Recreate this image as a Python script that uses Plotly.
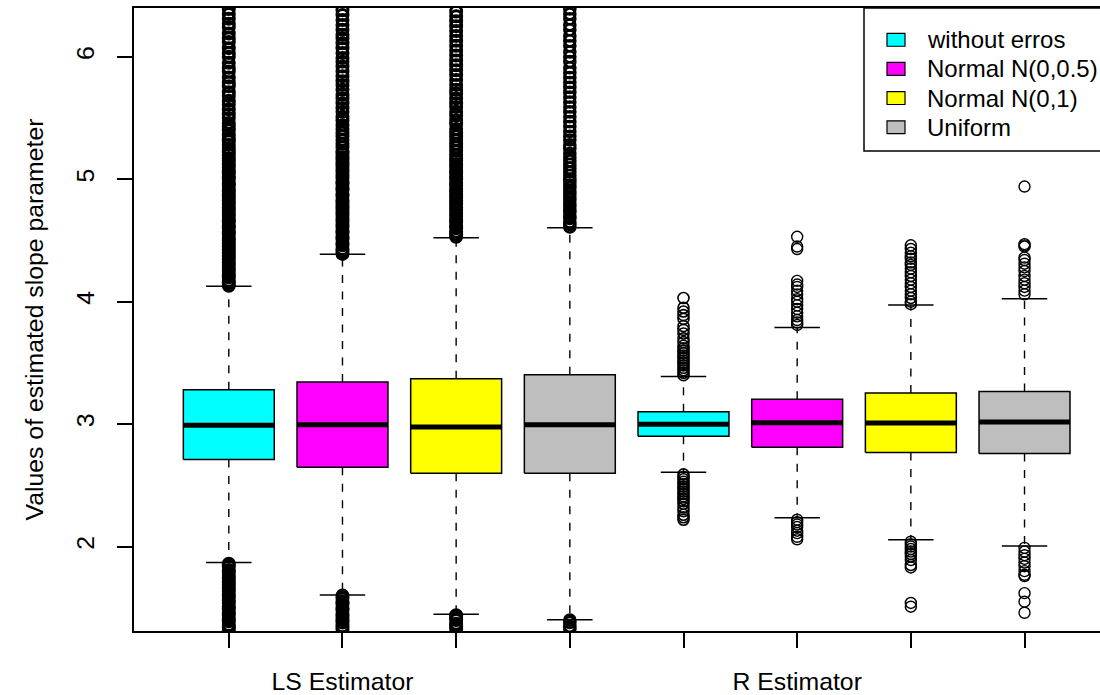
import plotly.graph_objects as go

# ---------------- data ----------------
estimators = ["LS Estimator", "R Estimator"]
error_types = ["without erros", "Normal N(0,0.5)", "Normal N(0,1)", "Uniform"]
box_colors = ["#00FFFF", "#FF00FF", "#FFFF00", "#BEBEBE"]

# eight boxes: LS x 4 error types, then R x 4 error types
q1 = [2.712, 2.649, 2.600, 2.600, 2.901, 2.811, 2.768, 2.760]
median = [2.992, 2.995, 2.976, 2.995, 3.000, 3.012, 3.009, 3.017]
q3 = [3.280, 3.344, 3.371, 3.404, 3.101, 3.203, 3.255, 3.266]
lower_whisker = [1.870, 1.605, 1.448, 1.402, 2.608, 2.235, 2.057, 2.006]
upper_whisker = [4.126, 4.388, 4.521, 4.604, 3.390, 3.790, 3.972, 4.023]

outliers_ls_none = [
    4.13, 4.15, 4.17, 4.20, 4.22, 4.25, 4.27, 4.30, 4.32, 4.35, 4.37, 4.40, 4.42,
    4.45, 4.47, 4.50, 4.52, 4.55, 4.57, 4.60, 4.62, 4.65, 4.67, 4.70, 4.72, 4.75,
    4.77, 4.80, 4.82, 4.85, 4.87, 4.90, 4.92, 4.95, 4.97, 5.00, 5.02, 5.05, 5.07,
    5.10, 5.12, 5.15, 5.17, 5.20, 5.22, 5.25, 5.28, 5.31, 5.33, 5.36, 5.40, 5.43,
    5.46, 5.50, 5.53, 5.57, 5.61, 5.64, 5.68, 5.71, 5.76, 5.79, 5.83, 5.88, 5.91,
    5.95, 6.00, 6.03, 6.07, 6.12, 6.15, 6.19, 6.24, 6.27, 6.31, 6.35, 6.39,
    1.86, 1.84, 1.81, 1.79, 1.76, 1.74, 1.71, 1.69, 1.66, 1.64, 1.61, 1.59, 1.56,
    1.54, 1.51, 1.49, 1.46, 1.44, 1.41, 1.39, 1.36, 1.34, 1.32,
]
outliers_ls_n05 = [
    4.39, 4.41, 4.43, 4.46, 4.48, 4.51, 4.53, 4.56, 4.58, 4.61, 4.63, 4.66, 4.68,
    4.71, 4.73, 4.76, 4.78, 4.81, 4.83, 4.86, 4.88, 4.91, 4.93, 4.96, 4.98, 5.01,
    5.03, 5.06, 5.08, 5.11, 5.13, 5.16, 5.18, 5.21, 5.23, 5.26, 5.29, 5.32, 5.35,
    5.38, 5.41, 5.44, 5.48, 5.51, 5.55, 5.58, 5.62, 5.66, 5.69, 5.73, 5.77, 5.80,
    5.84, 5.88, 5.92, 5.96, 5.99, 6.03, 6.07, 6.11, 6.15, 6.18, 6.22, 6.26, 6.30,
    6.34, 6.38,
    1.60, 1.58, 1.55, 1.53, 1.50, 1.48, 1.45, 1.43, 1.40, 1.38, 1.35, 1.33,
]
outliers_ls_n1 = [
    4.53, 4.55, 4.57, 4.60, 4.62, 4.65, 4.67, 4.70, 4.72, 4.75, 4.77, 4.80, 4.82,
    4.85, 4.87, 4.90, 4.92, 4.95, 4.97, 5.00, 5.02, 5.05, 5.07, 5.10, 5.12, 5.15,
    5.17, 5.20, 5.23, 5.26, 5.29, 5.32, 5.35, 5.38, 5.41, 5.45, 5.48, 5.52, 5.55,
    5.59, 5.62, 5.66, 5.70, 5.73, 5.77, 5.81, 5.85, 5.89, 5.93, 5.97, 6.01, 6.05,
    6.09, 6.13, 6.17, 6.21, 6.25, 6.29, 6.33, 6.37,
    1.44, 1.42, 1.40, 1.37, 1.35, 1.33,
]
outliers_ls_unif = [
    4.61, 4.63, 4.65, 4.68, 4.70, 4.73, 4.75, 4.78, 4.80, 4.83, 4.85, 4.88, 4.90,
    4.93, 4.95, 4.98, 5.00, 5.03, 5.06, 5.09, 5.12, 5.15, 5.18, 5.21, 5.25, 5.28,
    5.32, 5.35, 5.39, 5.43, 5.47, 5.51, 5.55, 5.59, 5.63, 5.67, 5.71, 5.75, 5.79,
    5.83, 5.87, 5.91, 5.96, 6.00, 6.04, 6.09, 6.13, 6.17, 6.22, 6.26, 6.31, 6.35,
    6.39,
    1.40, 1.38, 1.35, 1.33,
]
outliers_r_none = [
    3.40, 3.42, 3.44, 3.46, 3.48, 3.50, 3.52, 3.54, 3.56, 3.58, 3.60, 3.62, 3.64,
    3.67, 3.70, 3.74, 3.77, 3.80, 3.86, 3.89, 3.92, 3.95, 4.03,
    2.59, 2.57, 2.55, 2.53, 2.51, 2.49, 2.47, 2.45, 2.43, 2.41, 2.39, 2.37, 2.35,
    2.32, 2.29, 2.26, 2.24, 2.22,
]
outliers_r_n05 = [
    4.53, 4.45, 4.43, 4.17, 4.14, 4.12, 4.09, 4.06, 4.02, 4.00, 3.97, 3.94, 3.91,
    3.88, 3.85, 3.83, 3.81,
    2.22, 2.20, 2.18, 2.16, 2.13, 2.11, 2.08, 2.06,
]
outliers_r_n1 = [
    4.46, 4.43, 4.40, 4.37, 4.35, 4.32, 4.30, 4.27, 4.24, 4.21, 4.18, 4.15, 4.12,
    4.09, 4.06, 4.03, 4.00, 3.98,
    2.04, 2.02, 2.00, 1.98, 1.96, 1.94, 1.92, 1.89, 1.85, 1.83, 1.54, 1.51,
]
outliers_r_unif = [
    4.94, 4.47, 4.46, 4.45, 4.36, 4.34, 4.31, 4.28, 4.25, 4.21, 4.18, 4.15, 4.12,
    4.09, 4.06,
    1.99, 1.96, 1.93, 1.90, 1.87, 1.84, 1.80, 1.77, 1.76, 1.62, 1.55, 1.46,
]
outliers = [outliers_ls_none, outliers_ls_n05, outliers_ls_n1, outliers_ls_unif,
            outliers_r_none, outliers_r_n05, outliers_r_n1, outliers_r_unif]

y_ticks = [2, 3, 4, 5, 6]
y_title = "Values of estimated slope parameter"

# ---------------- styling ----------------
FONT = "Liberation Sans, Arial, Helvetica, sans-serif"
FS = 24.8
LEG_FS = 24
BOX_W = 0.8
STAPLE_W = 0.4
W, H = 1100, 695
ML, MR, MT, MB = 134, 0, 8, 60
# the LS outlier columns hold thousands of overlapping points -> heavier strokes
OUTLIER_STROKE = [3.0, 3.0, 3.0, 2.6, 1.6, 1.4, 1.5, 1.4]

n = len(q1)
pos = list(range(1, n + 1))
fills = box_colors * len(estimators)

fig = go.Figure()

# whiskers (dashed)
wx, wy = [], []
for i, p in enumerate(pos):
    wx += [p, p, None, p, p, None]
    wy += [q3[i], upper_whisker[i], None, q1[i], lower_whisker[i], None]
fig.add_trace(go.Scatter(x=wx, y=wy, mode="lines", hoverinfo="skip", showlegend=False,
                         line=dict(color="black", width=1.4, dash="8px,8.5px")))
# staples
sx, sy = [], []
for i, p in enumerate(pos):
    sx += [p - STAPLE_W / 2, p + STAPLE_W / 2, None, p - STAPLE_W / 2, p + STAPLE_W / 2, None]
    sy += [upper_whisker[i], upper_whisker[i], None, lower_whisker[i], lower_whisker[i], None]
fig.add_trace(go.Scatter(x=sx, y=sy, mode="lines", hoverinfo="skip", showlegend=False,
                         line=dict(color="black", width=1.5)))
# boxes
for i, p in enumerate(pos):
    l, r = p - BOX_W / 2, p + BOX_W / 2
    fig.add_trace(go.Scatter(x=[l, r, r, l, l], y=[q1[i], q1[i], q3[i], q3[i], q1[i]],
                             mode="lines", fill="toself", fillcolor=fills[i],
                             line=dict(color="black", width=1.5),
                             hoverinfo="skip", showlegend=False))
# medians
mx, my = [], []
for i, p in enumerate(pos):
    mx += [p - BOX_W / 2, p + BOX_W / 2, None]
    my += [median[i], median[i], None]
fig.add_trace(go.Scatter(x=mx, y=my, mode="lines", hoverinfo="skip", showlegend=False,
                         line=dict(color="black", width=5)))
# outliers
for i, p in enumerate(pos):
    fig.add_trace(go.Scatter(x=[p] * len(outliers[i]), y=outliers[i], mode="markers",
                             showlegend=False,
                             marker=dict(symbol="circle-open", size=11, color="black",
                                         line=dict(width=OUTLIER_STROKE[i], color="black"))))

# ---------------- legend (drawn in pixel positions) ----------------
def px_x(px):
    return (px - ML) / (W - ML - MR)


def px_y(py):
    return (H - MB - py) / (H - MT - MB)


fig.add_shape(type="rect", xref="paper", yref="paper",
              x0=px_x(864), x1=px_x(1130), y0=px_y(152), y1=px_y(8),
              line=dict(color="black", width=1.5), fillcolor="white", layer="above")
row_y = [40, 69.3, 98.6, 128]
for k, (name, col) in enumerate(zip(error_types, box_colors)):
    fig.add_shape(type="rect", xref="paper", yref="paper",
                  x0=px_x(887), x1=px_x(905), y0=px_y(row_y[k] + 6.5), y1=px_y(row_y[k] - 6.5),
                  line=dict(color="black", width=1.2), fillcolor=col, layer="above")
    fig.add_annotation(x=px_x(925), y=px_y(row_y[k]), xref="paper", yref="paper",
                       text=name, showarrow=False, xanchor="left", yanchor="middle",
                       font=dict(family=FONT, size=LEG_FS, color="black"))

tick_text = []
for e in estimators:
    tick_text += ["", e, "", ""]

fig.update_layout(
    width=W, height=H,
    margin=dict(l=ML, r=MR, t=MT, b=MB, pad=0),
    plot_bgcolor="white", paper_bgcolor="white",
    font=dict(family=FONT, size=FS, color="black"),
    showlegend=False,
    xaxis=dict(range=[0.166, 8.664], tickvals=pos, ticktext=tick_text,
               ticks="outside", ticklen=15, tickwidth=1.5, tickcolor="black",
               showline=True, linecolor="black", linewidth=1.5, mirror=True,
               showgrid=False, zeroline=False, ticklabelstandoff=12,
               tickfont=dict(family=FONT, size=FS)),
    yaxis=dict(range=[1.311, 6.398], tickvals=y_ticks, ticktext=[str(v) for v in y_ticks],
               tickangle=-90, ticks="outside", ticklen=15, tickwidth=1.5, tickcolor="black",
               showline=True, linecolor="black", linewidth=1.5, mirror=False,
               showgrid=False, zeroline=False, ticklabelstandoff=13,
               tickfont=dict(family=FONT, size=FS),
               title=dict(text=y_title, font=dict(family=FONT, size=FS), standoff=22)),
)

fig.write_html("out.html")
